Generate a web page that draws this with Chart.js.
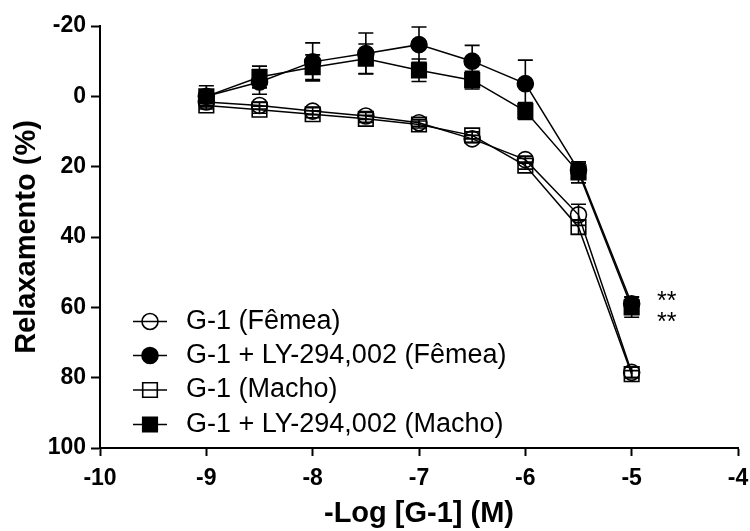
<!DOCTYPE html>
<html>
<head>
<meta charset="utf-8">
<script src="https://cdn.jsdelivr.net/npm/chart.js@4.4.1/dist/chart.umd.min.js"></script>
<style>
html,body{margin:0;padding:0;background:#fff;}
#wrap{width:750px;height:531px;position:relative;}
</style>
</head>
<body>
<div id="wrap"><canvas id="c" width="750" height="531"></canvas></div>
<script>
// ---- data ----
const concentrations = [-9, -8.5, -8, -7.5, -7, -6.5, -6, -5.5, -5];
const femeaG1     = [1.6, 2.6, 4.2, 5.6, 7.5, 12.1, 18.0, 33.7, 78.5];
const femeaG1Sem  = [1.0, 1.0, 1.0, 1.0, 1.0, 1.0, 1.0, 3.0, 1.5];
const femeaLY     = [0.0, -4.1, -9.8, -12.2, -14.7, -10.0, -3.6, 21.0, 59.0];
const femeaLYSem  = [3.0, 3.5, 5.4, 5.8, 5.0, 4.5, 6.7, 2.0, 2.0];
const machoG1     = [2.6, 3.8, 5.1, 6.4, 8.0, 11.1, 19.7, 37.2, 79.0];
const machoG1Sem  = [1.0, 1.0, 1.0, 1.0, 1.0, 1.0, 1.0, 2.0, 1.0];
const machoLY     = [0.0, -5.5, -8.3, -10.7, -7.4, -4.6, 4.2, 21.6, 60.0];
const machoLYSem  = [1.5, 3.1, 3.5, 4.2, 3.2, 2.5, 2.4, 3.0, 2.8];
const seriesLabels = ['G-1 (Fêmea)', 'G-1 + LY-294,002 (Fêmea)', 'G-1 (Macho)', 'G-1 + LY-294,002 (Macho)'];
const xTickValues = [-10, -9, -8, -7, -6, -5, -4];
const yTickValues = [-20, 0, 20, 40, 60, 80, 100];
const significance = '**';

const FONT = "'Liberation Sans', Arial, Helvetica, sans-serif";
Chart.defaults.font.family = FONT;
Chart.defaults.color = '#000';

function pts(vals){ return concentrations.map((x,i)=>({x:x,y:vals[i]})); }

function mkDs(label, vals, sem, style, filled, radius, order){
  return {
    label: label, data: pts(vals), sem: sem,
    borderColor:'#000', borderWidth:1.5,
    pointStyle: style, pointRadius: radius, pointHoverRadius: radius,
    pointBackgroundColor: filled ? '#000' : 'rgba(0,0,0,0)',
    pointBorderColor:'#000', pointBorderWidth:1.6,
    backgroundColor: filled ? '#000' : 'rgba(0,0,0,0)',
    showLine:true, tension:0, fill:false, order: order, clip:false
  };
}

const datasets = [
  mkDs(seriesLabels[0], femeaG1, femeaG1Sem, 'circle', false, 8, 3),
  mkDs(seriesLabels[1], femeaLY, femeaLYSem, 'circle', true, 8, 2),
  mkDs(seriesLabels[2], machoG1, machoG1Sem, 'rect', false, 10.3, 1),
  mkDs(seriesLabels[3], machoLY, machoLYSem, 'rect', true, 10.3, 0)
];

const errorBars = {
  id:'errorBars',
  beforeDatasetsDraw(chart){
    const {ctx, scales:{x,y}} = chart;
    ctx.save();
    ctx.strokeStyle = '#000';
    ctx.lineWidth = 1.6;
    chart.data.datasets.forEach(ds=>{
      ds.data.forEach((p,j)=>{
        const e = ds.sem[j];
        const px = x.getPixelForValue(p.x);
        const y1 = y.getPixelForValue(p.y - e);
        const y2 = y.getPixelForValue(p.y + e);
        const cw = 7.5;
        ctx.beginPath();
        ctx.moveTo(px, y1); ctx.lineTo(px, y2);
        ctx.moveTo(px-cw, y1); ctx.lineTo(px+cw, y1);
        ctx.moveTo(px-cw, y2); ctx.lineTo(px+cw, y2);
        ctx.stroke();
      });
    });
    ctx.restore();
  }
};

const customLegend = {
  id:'customLegend',
  afterDraw(chart){
    const {ctx} = chart;
    ctx.save();
    const x0 = 133, x1 = 167, xm = 150, tx = 186;
    const ys = [321.5, 355.5, 390, 424.5];
    chart.data.datasets.forEach((ds,i)=>{
      const yy = ys[i];
      ctx.strokeStyle = '#000'; ctx.lineWidth = 1.5;
      ctx.beginPath(); ctx.moveTo(x0,yy); ctx.lineTo(x1,yy); ctx.stroke();
      ctx.fillStyle = ds.pointBackgroundColor;
      ctx.strokeStyle = '#000'; ctx.lineWidth = ds.pointBorderWidth;
      ctx.beginPath();
      if (ds.pointStyle === 'circle') { ctx.arc(xm, yy, ds.pointRadius, 0, Math.PI*2); }
      else { const s = ds.pointRadius*Math.SQRT1_2; ctx.rect(xm-s, yy-s, 2*s, 2*s); }
      ctx.fill(); ctx.stroke();
      ctx.fillStyle = '#000';
      ctx.font = "27px " + FONT;
      ctx.textBaseline = 'middle';
      ctx.textAlign = 'left';
      ctx.fillText(ds.label, tx, yy);
    });
    // significance marks next to the last LY points
    const xs = chart.scales.x, ysc = chart.scales.y;
    const last = concentrations.length - 1;
    const ax = xs.getPixelForValue(concentrations[last]) + 35;
    const ay = ysc.getPixelForValue(machoLY[last]);
    ctx.font = "25px " + FONT;
    ctx.textAlign = 'center';
    ctx.textBaseline = 'alphabetic';
    ctx.fillText(significance, ax, ay - 11 + 13);
    ctx.fillText(significance, ax, ay + 10 + 13);
    ctx.restore();
  }
};

new Chart(document.getElementById('c'), {
  type:'scatter',
  data:{ datasets: datasets },
  options:{
    responsive:false, animation:false, maintainAspectRatio:false,
    layout:{ padding:{ top:26, right:12, left:0, bottom:0 } },
    plugins:{ legend:{display:false}, tooltip:{enabled:false} },
    scales:{
      x:{
        type:'linear', min:-10, max:-4,
        afterBuildTicks(s){ s.ticks = xTickValues.map(v=>({value:v})); },
        afterFit(s){ s.height = 83; s.paddingRight = 0; s.paddingLeft = 0; },
        border:{ display:true, color:'#000', width:2 },
        grid:{ display:true, drawOnChartArea:false, drawTicks:true, tickLength:8, tickColor:'#000', tickWidth:2, color:'#000' },
        ticks:{ padding:9, font:{ size:23, weight:'bold' }, color:'#000', callback:v=>String(v) },
        title:{ display:true, text:'-Log [G-1] (M)', font:{ size:29, weight:'bold' }, color:'#000', padding:{top:0,bottom:0} }
      },
      y:{
        type:'linear', min:-20, max:100, reverse:true,
        afterBuildTicks(s){ s.ticks = yTickValues.map(v=>({value:v})); },
        afterFit(s){ s.width = 100; s.paddingTop = 0; s.paddingBottom = 0; },
        border:{ display:true, color:'#000', width:2 },
        grid:{ display:true, drawOnChartArea:false, drawTicks:true, tickLength:9, tickColor:'#000', tickWidth:2, color:'#000' },
        ticks:{ padding:5, font:{ size:23, weight:'bold' }, color:'#000', callback:v=>String(v) },
        title:{ display:true, text:'Relaxamento (%)', font:{ size:29, weight:'bold' }, color:'#000', padding:{top:10,bottom:0} }
      }
    }
  },
  plugins:[errorBars, customLegend]
});
</script>
</body>
</html>
